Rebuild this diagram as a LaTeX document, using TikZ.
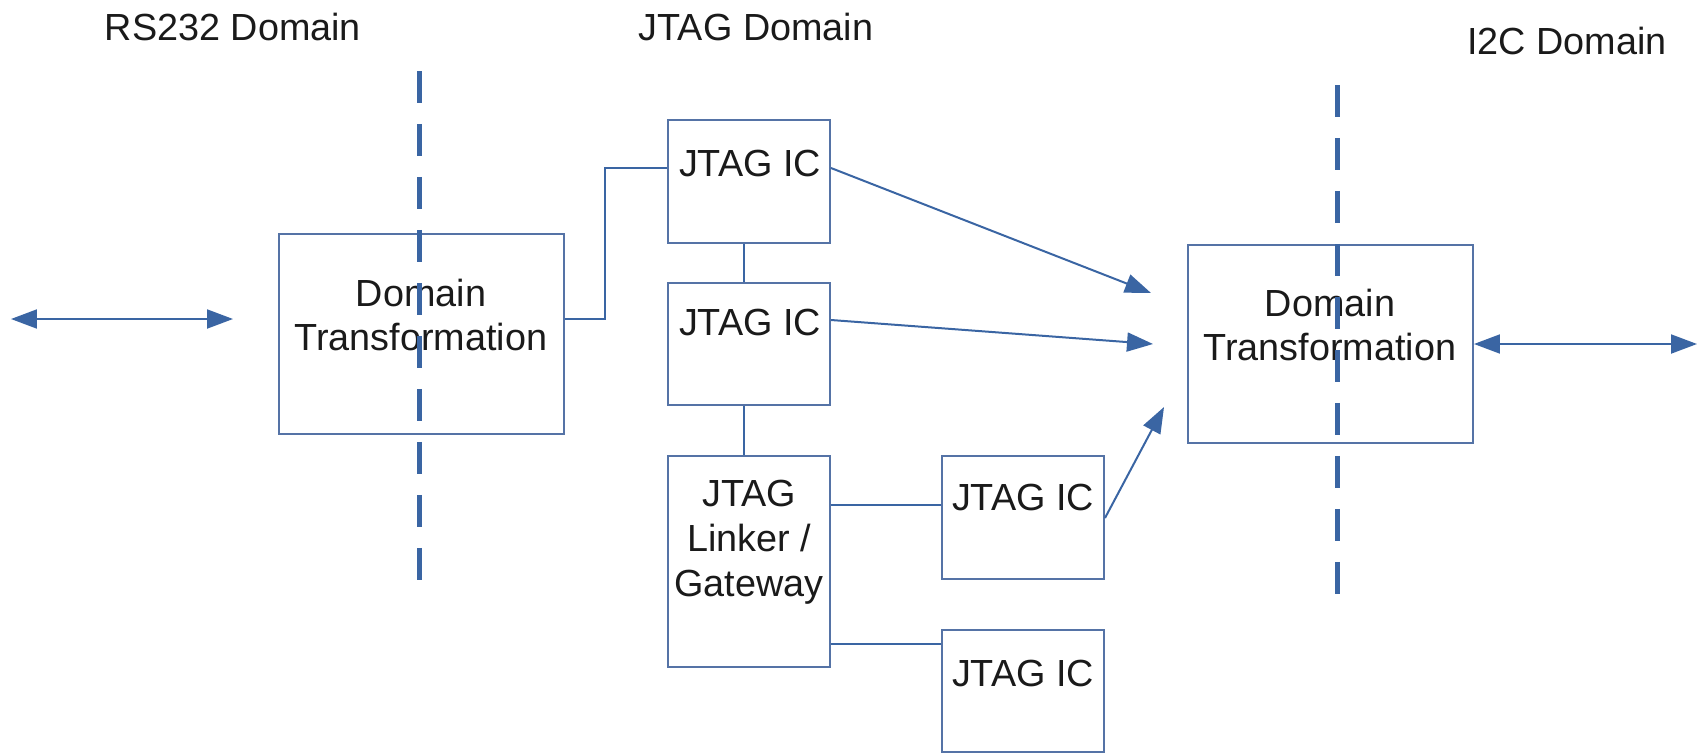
\documentclass[tikz,border=0pt]{standalone}
\usepackage{fontspec}
\setmainfont{Liberation Sans}
\usetikzlibrary{arrows.meta}
\definecolor{lineblue}{HTML}{3A65A3}
\definecolor{boxblue}{HTML}{5573A6}
\definecolor{txt}{HTML}{1A1A1A}
\begin{document}
\begin{tikzpicture}[x=0.02cm,y=-0.02cm,
  box/.style={draw=boxblue, line width=0.04cm, rectangle, inner sep=0pt, fill=none},
  lbl/.style={text=txt, font=\fontsize{21.5}{25.5}\selectfont, align=center, inner sep=0pt},
  wire/.style={draw=lineblue, line width=0.04cm},
  arr/.style={wire, -{Triangle[length=0.52cm, width=0.38cm]}},
  darr/.style={wire, {Triangle[length=0.52cm, width=0.38cm]}-{Triangle[length=0.52cm, width=0.38cm]}},
  border/.style={draw=lineblue, line width=0.1cm, dash pattern=on 0.64cm off 0.42cm}]
\useasboundingbox (0,0) rectangle (1702,754);

% headers
\node[lbl] (hrs) at (233,27) {RS232 Domain};
\node[lbl] (hjt) at (756,27) {JTAG Domain};
\node[lbl] (hi2c) at (1567,41) {I2C Domain};

% boxes
\node[box, minimum width=5.7cm, minimum height=4cm] (dtl) at (421.5,334) {};
\node[box, minimum width=5.7cm, minimum height=3.96cm] (dtr) at (1330.5,344) {};
\node[box, minimum width=3.24cm, minimum height=2.46cm] (ic1) at (749,181.5) {};
\node[box, minimum width=3.24cm, minimum height=2.44cm] (ic2) at (749,344) {};
\node[box, minimum width=3.24cm, minimum height=4.22cm] (lnk) at (749,561.5) {};
\node[box, minimum width=3.24cm, minimum height=2.46cm] (ic3) at (1023,517.5) {};
\node[box, minimum width=3.24cm, minimum height=2.44cm] (ic4) at (1023,691) {};

% labels
\node[lbl] (tdtl) at (421,315) {Domain\\Transformation};
\node[lbl] (tdtr) at (1330,325) {Domain\\Transformation};
\node[lbl] (tic1) at (750,163) {JTAG IC};
\node[lbl] (tic2) at (750,322) {JTAG IC};
\node[lbl] (tlnk) at (749,542) {JTAG\\Linker /\\Gateway};
\node[lbl] (tic3) at (1023,497) {JTAG IC};
\node[lbl] (tic4) at (1023,673) {JTAG IC};

% free ends
\coordinate (lfar) at (11,319);
\coordinate (lnear) at (233,319);
\coordinate (rfar) at (1697,344);
\coordinate (t1) at (1151,293);
\coordinate (t2) at (1153,344);
\coordinate (t3) at (1164,407);

% connectors
\draw[darr] (lfar) -- (lnear);
\draw[darr] (dtr.east) -- (rfar);
\draw[wire] (dtl.east |- 0,319) -| (605,168) -- (ic1.west |- 0,168);
\draw[wire] (ic1.south -| 744,0) -- (ic2.north -| 744,0);
\draw[wire] (ic2.south -| 744,0) -- (lnk.north -| 744,0);
\draw[wire] (lnk.east |- 0,505) -- (ic3.west |- 0,505);
\draw[wire] (lnk.east |- 0,644) -- (ic4.west |- 0,644);
\draw[arr] (ic1.east |- 0,168) -- (t1);
\draw[arr] (ic2.east |- 0,320) -- (t2);
\draw[arr] (ic3.east |- 0,518) -- (t3);

% domain borders
\draw[border] (419,71) -- (419,592);
\draw[border] (1337,85) -- (1337,602);
\end{tikzpicture}
\end{document}
